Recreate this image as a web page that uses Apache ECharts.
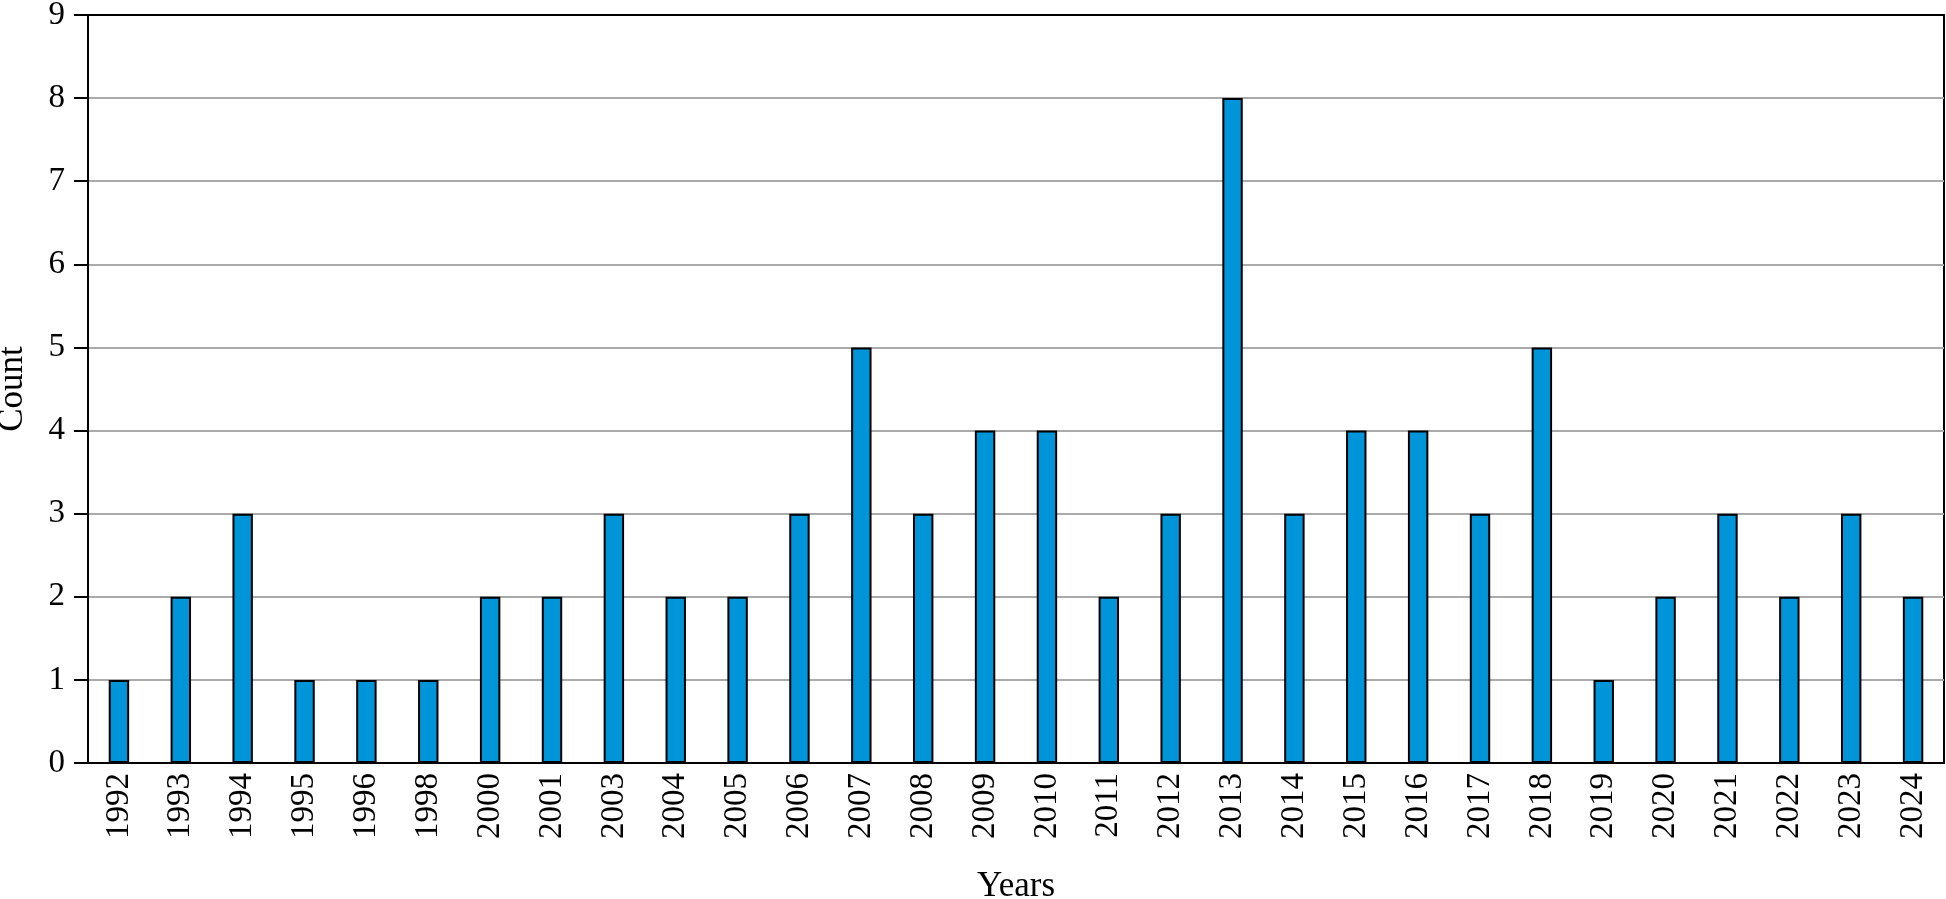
<!DOCTYPE html>
<html>
<head>
<meta charset="utf-8">
<script src="https://cdn.jsdelivr.net/npm/echarts@6/dist/echarts.min.js"></script>
<style>
html,body{margin:0;padding:0;background:#fff;}
#chart{width:1946px;height:899px;}
</style>
</head>
<body>
<div id="chart"></div>
<script>
const years = ['1992','1993','1994','1995','1996','1998','2000','2001','2003','2004','2005','2006','2007','2008','2009','2010','2011','2012','2013','2014','2015','2016','2017','2018','2019','2020','2021','2022','2023','2024'];
const counts = [1,2,3,1,1,1,2,2,3,2,2,3,5,3,4,4,2,3,8,3,4,4,3,5,1,2,3,2,3,2];
const yTicks = [0,1,2,3,4,5,6,7,8,9];

const FONT = '"Liberation Serif", "DejaVu Serif", serif';
const gridColors = yTicks.map((v, i) => (i === yTicks.length - 1 ? '#000000' : '#aaaaaa'));

const chart = echarts.init(document.getElementById('chart'), null, {renderer: 'canvas'});
chart.setOption({
  animation: false,
  backgroundColor: '#ffffff',
  grid: {
    left: 88, right: 2, top: 15, bottom: 136,
    containLabel: false, outerBoundsMode: 'none',
    show: true, borderColor: '#000000', borderWidth: 2, backgroundColor: 'transparent'
  },
  xAxis: {
    type: 'category',
    data: years,
    name: 'Years',
    nameLocation: 'middle',
    nameGap: 106,
    nameTextStyle: {fontFamily: FONT, fontSize: 35, color: '#000'},
    axisLine: {show: true, lineStyle: {color: '#000', width: 2}},
    axisTick: {show: false},
    axisLabel: {rotate: 90, margin: 10, fontFamily: FONT, fontSize: 33, color: '#000', interval: 0},
    splitLine: {show: false}
  },
  yAxis: {
    type: 'value',
    min: yTicks[0],
    max: yTicks[yTicks.length - 1],
    interval: 1,
    name: 'Count',
    nameLocation: 'middle',
    nameGap: 58,
    nameTextStyle: {fontFamily: FONT, fontSize: 35, color: '#000'},
    axisLine: {show: true, lineStyle: {color: '#000', width: 2}},
    axisTick: {show: true, length: 14, lineStyle: {color: '#000', width: 2}},
    axisLabel: {margin: 23, fontFamily: FONT, fontSize: 33, color: '#000'},
    splitLine: {show: true, lineStyle: {color: gridColors, width: 2}}
  },
  series: [{
    type: 'bar',
    data: counts,
    barWidth: '33%',
    itemStyle: {color: '#0095d9', borderColor: '#000', borderWidth: 2}
  }]
});
</script>
</body>
</html>
